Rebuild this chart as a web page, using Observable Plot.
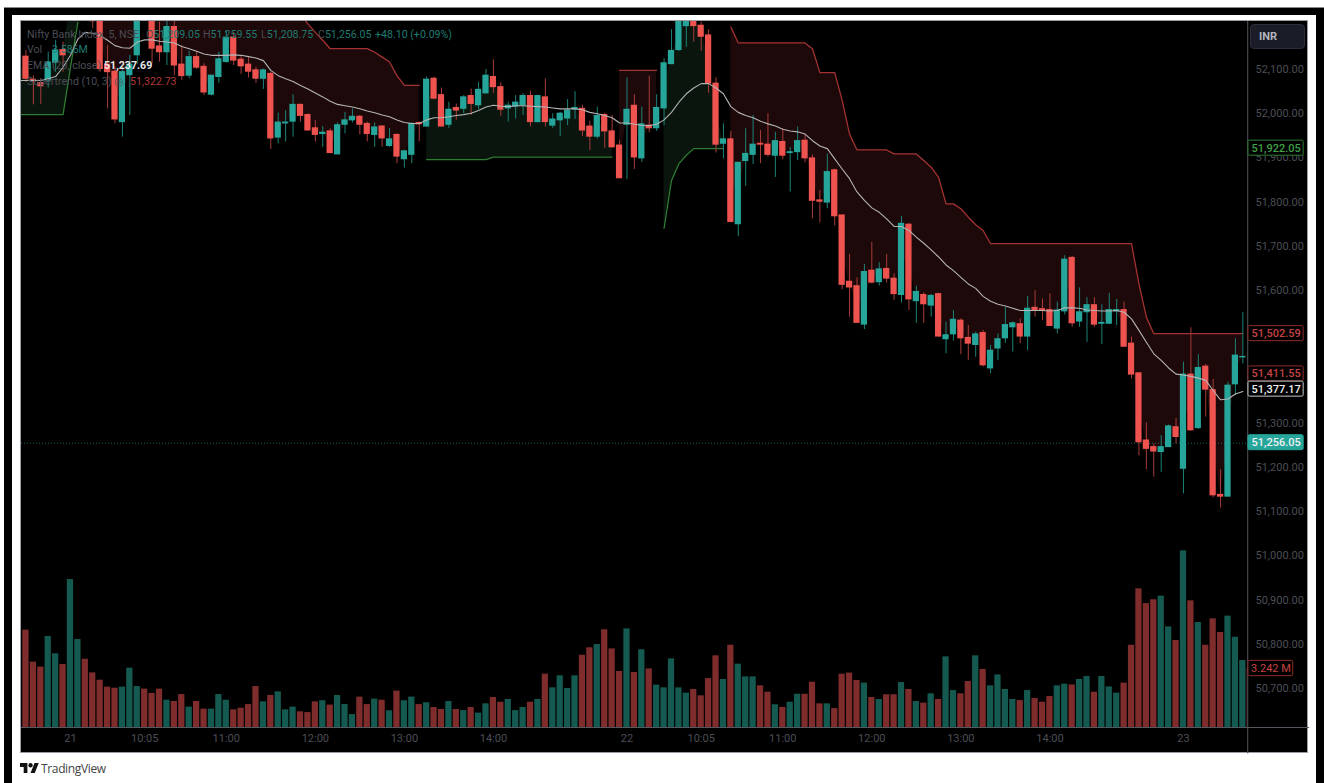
<!DOCTYPE html>
<html><head><meta charset="utf-8">
<script src="https://cdn.jsdelivr.net/npm/d3@7"></script>
<script src="https://cdn.jsdelivr.net/npm/@observablehq/plot@0.6"></script>
<style>
html,body{margin:0;padding:0;background:#fff;overflow:hidden;width:1324px;height:783px;font-family:Roboto,sans-serif}
.abs{position:absolute}
#legend div{position:absolute;left:27px;white-space:pre;font-size:10.6px;line-height:14px;color:#4a4d55}
#legend span{position:absolute;top:0}
#legend b{font-weight:400;color:#1f7c73}
svg{position:absolute;left:0;top:0}
</style></head><body>
<div class="abs" style="left:4px;top:7px;width:1320px;height:776px;background:#000;border-top:1px solid #888;box-sizing:border-box"></div>
<div class="abs" style="left:12px;top:15px;width:1304px;height:768px;background:#fff"></div>
<div class="abs" style="left:20px;top:20px;width:1288px;height:733px;background:#000;border:1px solid #9a9ca3;box-sizing:border-box"></div>
<div id="vol"></div><div id="price"></div>
<div class="abs" style="left:1250px;top:24px;width:55px;height:25px;box-sizing:border-box;background:#1a1d27;border:1px solid #2b2e39;border-radius:4px;color:#b2b5be;font-size:11px;font-weight:700;line-height:23px;padding-left:8px">INR</div>
<div id="legend">
<div style="top:28px">Nifty Bank Index, 5, NSE<span style="left:119px">O<b>51,209.05</b></span><span style="left:176px">H<b>51,259.55</b></span><span style="left:234px">L<b>51,208.75</b></span><span style="left:291px">C<b>51,256.05</b></span><span style="left:348px"><b>+48.10 (+0.09%)</b></span></div>
<div style="top:43px">Vol<span style="left:25px"><b>3.586M</b></span></div>
<div style="top:59px">EMA (20, close)<span style="left:77px"><b style="color:#e8e8e8;font-weight:700">51,237.69</b></span></div>
<div style="top:75px">Supertrend (10, 3) ◎<span style="left:103px"><b style="color:#b03a3a">51,322.73</b></span></div>
</div>
<svg class="abs" style="left:20px;top:762px" width="19" height="12" viewBox="0 2 36 22" preserveAspectRatio="none"><path fill="#111" d="M14 22H7V11H0V4h14v18zM28 22h-8l7.5-18h8L28 22z"/><circle fill="#111" cx="20" cy="8" r="4"/></svg>
<div class="abs" style="left:41px;top:761px;font-size:12px;line-height:15px;color:#444;font-family:'Open Sans',sans-serif;letter-spacing:-.35px">TradingView</div>
<script>
const highs=[52143,52086,52079,52139,52166,52162,52290,52330,52340,52290,52250,52154,52105,52105,52132,52235,52300,52245,52207,52225,
52220,52154,52141,52141,52113,52086,52139,52188,52184,52129,52129,52105,52101,52094,52001,52007,52043,52022,52000,51985,
51971,51966,51979,52003,52011,51996,51981,51979,51973,51966,51954,51917,51979,51981,52083,52083,52058,52026,52022,52041,
52056,52071,52100,52122,52070,52026,52041,52045,52051,52041,52079,52000,52003,52032,52050,52019,51983,52015,52001,51996,
51939,52081,52043,52015,52085,52043,52124,52190,52240,52240,52245,52207,52190,52081,51977,51960,51889,51966,51996,51962,
52000,51958,51966,51924,51970,51954,51907,51826,51909,51875,51770,51682,51629,51659,51709,51663,51682,51638,51768,51752,
51610,51595,51591,51594,51529,51555,51536,51521,51506,51510,51476,51502,51562,51529,51536,51587,51600,51581,51593,51574,
51679,51677,51606,51584,51584,51568,51594,51580,51574,51495,51413,51301,51253,51272,51296,51311,51438,51516,51455,51433,
51399,51195,51393,51491,51550];
const opens=[52129,52077,52069,52075,52115,52144,52225,52280,52325,52280,52235,52111,52095,51981,52087,52132,52285,52230,52152,52139,
52196,52111,52086,52128,52106,52043,52083,52117,52172,52122,52111,52098,52079,52090,51946,51978,51982,52020,51997,51967,
51954,51960,51908,51975,51985,51993,51977,51952,51971,51927,51952,51897,51907,51979,51971,52079,52042,51975,52013,52011,
52040,52019,52046,52083,52060,52012,52016,52019,52040,51981,52037,51973,51985,51989,52010,52011,51971,51948,51997,51960,
51928,51975,52018,51899,51973,51967,52012,52112,52144,52198,52230,52199,52177,52068,51932,51942,51750,51893,51907,51932,
51930,51905,51936,51911,51913,51939,51899,51804,51799,51872,51770,51620,51610,51523,51645,51619,51649,51627,51590,51749,
51576,51590,51566,51592,51490,51501,51532,51493,51477,51504,51424,51469,51492,51517,51524,51496,51561,51558,51556,51514,
51553,51674,51530,51551,51567,51525,51525,51553,51556,51480,51413,51261,51246,51235,51246,51291,51197,51410,51289,51428,
51375,51138,51134,51388,51449];
const closes=[52079,52073,52062,52116,52143,52132,52280,52320,52285,52209,52101,52094,51987,52094,52111,52225,52235,52147,52139,52196,
52109,52085,52128,52104,52048,52086,52123,52172,52120,52107,52095,52079,52098,51944,51980,51980,52020,51995,51962,51952,
51957,51911,51974,51985,51993,51975,51954,51969,51944,51942,51903,51915,51977,51976,52077,52034,51971,52009,52007,52037,
52022,52054,52086,52060,52009,52018,52025,52040,51981,52040,51981,51987,52000,52007,52013,51962,51948,51995,51960,51924,
51854,52009,51901,51976,51967,52013,52114,52142,52225,52228,52198,52174,52068,51930,51942,51755,51889,51909,51930,51930,
51907,51938,51905,51913,51938,51899,51803,51801,51868,51768,51613,51607,51527,51642,51618,51648,51627,51592,51751,51580,
51597,51569,51588,51496,51499,51534,51492,51480,51501,51431,51464,51490,51522,51526,51496,51559,51554,51555,51520,51555,
51670,51526,51551,51567,51523,51527,51556,51556,51473,51410,51257,51242,51236,51246,51293,51269,51410,51284,51425,51376,
51137,51134,51385,51453,51450];
const lows=[52071,52020,52021,52058,52094,52094,52215,52270,52275,52192,52094,52011,51977,51947,51996,52111,52220,52113,52117,52109,
52086,52075,52079,52100,52041,52040,52069,52114,52109,52089,52081,52068,52055,51919,51932,51936,51947,51981,51961,51936,
51924,51909,51907,51954,51979,51952,51936,51924,51924,51924,51887,51877,51887,51936,51969,52031,51970,51967,51985,52000,
51996,52009,52045,52046,51994,51981,51988,51996,51970,51979,51970,51967,51948,51973,51987,51948,51917,51943,51922,51922,
51854,51851,51874,51890,51957,51960,51973,52111,52141,52150,52162,52141,52046,51911,51898,51755,51722,51836,51885,51887,
51902,51856,51896,51823,51894,51889,51762,51753,51785,51746,51602,51540,51527,51512,51615,51610,51617,51578,51572,51555,
51526,51526,51540,51495,51457,51486,51455,51442,51449,51427,51412,51442,51481,51461,51480,51464,51540,51532,51519,51502,
51545,51517,51517,51483,51517,51478,51523,51521,51473,51400,51226,51195,51178,51189,51246,51253,51140,51282,51286,51314,
51131,51108,51134,51363,51434];
const ema=[52075,52075,52075,52079,52084,52105,52132,52169,52184,52182,52177,52166,52154,52149,52148,52162,52167,52167,52164,52162,
52160,52152,52147,52141,52135,52132,52132,52132,52133,52132,52129,52126,52120,52098,52086,52079,52073,52064,52056,52047,
52038,52028,52021,52018,52015,52011,52006,52002,51997,51993,51986,51980,51978,51978,51986,51991,51991,51993,51996,51998,
52001,52007,52015,52019,52017,52016,52018,52018,52017,52016,52015,52013,52011,52011,52011,52009,52003,52000,51996,51991,
51979,51979,51976,51974,51973,51976,51986,52003,52026,52045,52058,52068,52068,52058,52045,52016,52003,51996,51991,51983,
51977,51972,51965,51961,51959,51954,51939,51927,51921,51898,51875,51853,51823,51804,51787,51777,51762,51745,51745,51736,
51721,51707,51692,51676,51658,51645,51630,51615,51605,51587,51576,51569,51565,51560,51555,51555,51555,51555,51554,51555,
51561,51561,51560,51556,51555,51554,51554,51555,51551,51536,51510,51483,51457,51442,51425,51411,51409,51406,51402,51397,
51374,51353,51355,51366,51372];
const stUp=[51998,51998,51998,51998,51998,51998,52105,52207,null,null,null,null,null,null,null,null,null,null,null,null,
null,null,null,null,null,null,null,null,null,null,null,null,null,null,null,null,null,null,null,null,
null,null,null,null,null,null,null,null,null,null,null,null,null,null,51896,51896,51896,51896,51896,51896,
51896,51896,51896,51902,51902,51902,51902,51902,51902,51902,51902,51902,51902,51902,51902,51902,51902,51902,51902,51902,
null,null,null,null,null,null,51741,51849,51887,51906,51921,51921,51921,51921,51921];
const stDown=[null,null,null,null,null,null,null,null,52290,52290,52290,52290,52290,52290,52290,52290,52290,52290,52290,52290,
52290,52290,52290,52290,52290,52290,52290,52290,52290,52290,52290,52290,52290,52290,52290,52290,52290,52225,52203,52184,
52166,52147,52147,52147,52147,52147,52147,52139,52128,52117,52086,52064,52064,52064,null,null,null,null,null,null,
null,null,null,null,null,null,null,null,null,null,null,null,null,null,null,null,null,null,null,null,
52098,52098,52098,52098,52098,52098,null,null,null,null,null,null,null,null,null,52196,52160,52160,52160,52160,
52160,52160,52160,52160,52160,52160,52147,52093,52093,52093,52030,51954,51918,51918,51918,51918,51918,51909,51909,51909,
51909,51894,51879,51856,51796,51796,51785,51766,51749,51736,51706,51706,51706,51706,51706,51706,51706,51706,51706,51706,
51706,51706,51706,51706,51706,51706,51706,51706,51706,51706,51615,51540,51502.59,51502.59,51502.59,51502.59,51502.59,51502.59,51502.59,51502.59,
51502.59,51502.59,51502.59,51502.59,51502.59];
const volumes=[5.35,3.59,3.32,5.00,4.05,3.46,8.13,4.84,3.75,3.00,2.60,2.22,2.16,2.22,3.26,2.25,2.11,1.87,2.11,1.50,
1.43,1.81,1.12,1.43,1.01,1.01,1.81,1.50,0.97,1.06,1.26,2.25,1.41,1.76,1.96,0.97,1.12,0.86,0.82,1.41,
1.47,1.23,1.76,1.26,0.71,1.67,1.26,1.56,1.50,0.92,2.00,1.47,1.67,1.26,1.36,1.10,0.99,1.43,0.99,0.93,
1.10,0.79,1.30,1.65,1.39,1.54,0.93,1.10,1.39,1.54,2.93,2.18,2.84,2.14,2.84,3.97,4.38,4.56,5.37,4.32,
3.08,5.42,3.02,4.27,3.22,2.33,2.18,3.77,2.18,1.89,2.09,1.74,2.69,3.94,2.64,4.52,3.48,2.78,2.78,2.29,
1.94,1.25,1.10,1.39,1.83,1.83,2.49,1.30,1.30,1.04,2.93,2.99,2.58,2.44,1.65,1.54,1.80,1.80,2.47,2.09,
1.43,1.34,1.85,1.54,3.88,2.03,1.85,2.53,3.94,3.19,2.29,2.89,2.09,1.54,1.48,2.03,1.59,1.39,1.70,2.29,
2.38,2.34,2.64,2.80,1.94,2.80,2.23,1.89,2.44,4.52,7.62,6.81,7.02,7.22,5.53,4.78,9.71,6.96,5.77,4.52,
5.97,5.22,6.12,4.96,3.68,3.242];
const volumeDown=[0,1,2,5,8,9,10,11,12,16,17,18,20,21,23,24,28,29,30,31,33,37,38,39,41,45,46,48,50,53,55,56,58,60,63,64,68,70,75,76,78,79,80,82,84,90,91,92,93,95,99,100,102,105,106,107,109,110,111,112,114,116,117,119,121,123,126,127,129,134,136,137,138,141,144,148,149,150,151,152,155,157,159,160,161,165];
const tickIndex=[6,16,27,39,51,63,81,91,102,114,126,138,156];
const tickLabels=["21","10:05","11:00","12:00","13:00","14:00","22","10:05","11:00","12:00","13:00","14:00","23"];
const priceTicks=[50700,50800,50900,51000,51100,51200,51300,51600,51700,51800,51900,52000,52100];
const priceTags=[
 {v:51922.05,t:"51,922.05",s:"#2e7d32",f:"#000",c:"#3fa045"},
 {v:51502.59,t:"51,502.59",s:"#8f2c2c",f:"#000",c:"#c64444"},
 {v:51411.55,t:"51,411.55",s:"#8f2c2c",f:"#000",c:"#c64444"},
 {v:51377.17,t:"51,377.17",s:"#c8c8c8",f:"#000",c:"#f0f0f0"},
 {v:51256.05,t:"51,256.05",s:"#26a69a",f:"#26a69a",c:"#f0f0f0"}];
const TEAL="#26a69a",RED="#ef5350",DIM="#4b4e56",FONT="Roboto,sans-serif";
const rows=highs.map((h,i)=>({i,h,o:opens[i],c:closes[i],l:lows[i],e:ema[i],mid:(opens[i]+closes[i])/2,
  up:i<stUp.length?stUp[i]:null,dn:stDown[i]}));
const lineRows=[{i:-1,e:ema[0],up:stUp[0],dn:null,mid:rows[0].mid},...rows];
const rising=rows.filter(d=>d.c>=d.o), falling=rows.filter(d=>d.c<d.o);
const volRows=volumes.map((v,i)=>({i,v,down:volumeDown.includes(i)}));
const xDomain=[-0.6,164.63], tagX1=164.76, tagX2=172.2;
const common={width:1324,height:783,marginLeft:21,marginRight:77,marginTop:21,marginBottom:56,
  style:{background:"transparent",fontFamily:FONT,fontSize:"11px",overflow:"visible"}};
const priceChart=Plot.plot({...common,
  x:{domain:xDomain,axis:null},
  y:{domain:[50612,52208.5],axis:null},
  marks:[
    Plot.area(lineRows,{x1:"i",y1:"dn",y2:"mid",fill:"#1d0909",clip:true}),
    Plot.area(lineRows,{x1:"i",y1:"up",y2:"mid",fill:"#0a150d",clip:true}),
    Plot.line(lineRows,{x:"i",y:"dn",stroke:"#a33232",strokeWidth:1.3,clip:true}),
    Plot.line(lineRows,{x:"i",y:"up",stroke:"#2f7d33",strokeWidth:1.3,clip:true}),
    Plot.ruleY([51256.05],{stroke:TEAL,strokeDasharray:"1,2",strokeOpacity:.6,strokeWidth:1,dy:.5}),
    Plot.ruleX(rising,{x:"i",y1:"l",y2:"h",stroke:"#1d8278",strokeWidth:1,clip:true}),
    Plot.ruleX(falling,{x:"i",y1:"l",y2:"h",stroke:"#a83c3a",strokeWidth:1,clip:true}),
    Plot.rect(rising,{x1:d=>d.i-.42,x2:d=>d.i+.42,y1:"o",y2:"c",fill:TEAL,clip:true,insetTop:-.5,insetBottom:-.5}),
    Plot.rect(falling,{x1:d=>d.i-.42,x2:d=>d.i+.42,y1:"o",y2:"c",fill:RED,clip:true,insetTop:-.5,insetBottom:-.5}),
    Plot.line(lineRows,{x:"i",y:"e",stroke:"#b4b4b4",strokeWidth:1.1,clip:true}),
    Plot.axisY(priceTicks,{anchor:"right",tickSize:0,tickPadding:8,tickFormat:d3.format(",.2f"),fill:DIM,label:null,fontSize:11}),
    Plot.axisX(tickIndex,{anchor:"bottom",tickSize:0,tickPadding:7,tickFormat:d=>tickLabels[tickIndex.indexOf(d)],fill:DIM,label:null,fontSize:11}),
    Plot.ruleX([164.66],{y1:50612-60,y2:52208.5,stroke:"#55575e",strokeWidth:1}),
    Plot.ruleY([50612],{x1:-0.6,x2:173,stroke:"#55575e",strokeWidth:1}),
    Plot.rect(priceTags,{x1:tagX1,x2:tagX2,y1:d=>d.v-17,y2:d=>d.v+17,fill:"f",stroke:"s",rx:1.5}),
    Plot.text(priceTags,{x:(tagX1+tagX2)/2,y:"v",text:"t",fill:"c",fontSize:11,fontWeight:500})
  ]});
const volChart=Plot.plot({...common,
  x:{domain:xDomain,axis:null},
  y:{domain:[0,38.8],axis:null},
  marks:[
    Plot.rect(volRows.filter(d=>!d.down),{x1:d=>d.i-.42,x2:d=>d.i+.42,y1:0,y2:"v",fill:"#155a50",clip:true}),
    Plot.rect(volRows.filter(d=>d.down),{x1:d=>d.i-.42,x2:d=>d.i+.42,y1:0,y2:"v",fill:"#7f2c2d",clip:true})
  ]});
const volTag=Plot.plot({...common,
  x:{domain:xDomain,axis:null},
  y:{domain:[0,38.8],axis:null},
  marks:[
    Plot.rect([3.242],{x1:tagX1,x2:170.8,y1:d=>d-.42,y2:d=>d+.42,fill:"#000",stroke:"#8f2c2c",rx:1.5}),
    Plot.text([3.242],{x:(tagX1+170.8)/2,y:d=>d,text:d=>d+" M",fill:"#c64444",fontSize:11})
  ]});
document.getElementById("vol").append(volChart);
document.getElementById("price").append(priceChart,volTag);
</script>
</body></html>
